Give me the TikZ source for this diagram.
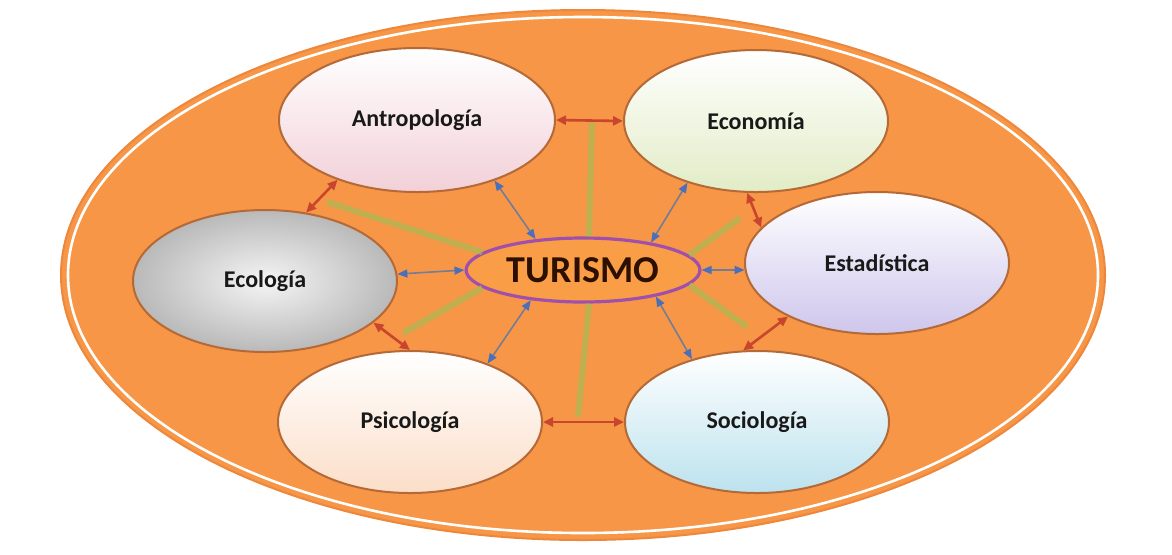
\documentclass[tikz,border=0pt]{standalone}
\usepackage{fontspec}
\setmainfont{Carlito}
\usetikzlibrary{arrows.meta,shapes.geometric}

\definecolor{bgorange}{RGB}{247,150,70}
\definecolor{bgedge}{RGB}{236,135,60}
\definecolor{areaborder}{RGB}{180,105,55}
\definecolor{antrofill}{RGB}{242,208,216}
\definecolor{econfill}{RGB}{226,236,198}
\definecolor{estadfill}{RGB}{206,198,236}
\definecolor{psicofill}{RGB}{251,222,200}
\definecolor{sociofill}{RGB}{188,226,238}
\definecolor{turfill}{RGB}{249,158,70}
\definecolor{turborder}{RGB}{160,80,170}
\definecolor{turtext}{RGB}{45,15,0}
\definecolor{redline}{RGB}{200,70,45}
\definecolor{blueline}{RGB}{115,125,150}
\definecolor{bluetip}{RGB}{75,112,185}
\definecolor{greenray}{RGB}{168,186,82}

\begin{document}
\begin{tikzpicture}[x=0.5pt, y=-0.5pt,
    area/.style={ellipse, draw=areaborder, line width=1pt, minimum width=132pt,
      minimum height=71pt, text=black!90, font=\fontsize{12}{14}\selectfont\bfseries},
    redarr/.style={draw=redline, line width=1.3pt,
      {Triangle[length=5pt,width=4.5pt,color=redline]}-{Triangle[length=5pt,width=4.5pt,color=redline]}},
    bluearr/.style={draw=blueline, line width=0.8pt,
      {Triangle[length=5pt,width=4pt,color=bluetip]}-{Triangle[length=5pt,width=4pt,color=bluetip]}},
    greenray/.style={draw=greenray, line width=3pt, opacity=0.7}]
    \useasboundingbox (0,0) rectangle (1172,554);
    \draw[fill=bgorange, draw=bgedge, line width=1pt] (583,275) ellipse [x radius=522, y radius=265];
    \draw[white, line width=1.3pt] (583,275) ellipse [x radius=515, y radius=258];

    \node[area, minimum width=138pt, minimum height=72pt, top color=white, bottom color=antrofill] (antro) at (417,120) {Antropología};
    \node[area, top color=white, bottom color=econfill] (econ) at (756,121) {Economía};
    \node[area, top color=white, bottom color=estadfill] (estad) at (877,263) {Estadística};
    \node[area, inner color=gray!8, outer color=gray!55] (ecol) at (265,281) {Ecología};
    \node[area, top color=white, bottom color=psicofill] (psico) at (410,422) {Psicología};
    \node[area, top color=white, bottom color=sociofill] (socio) at (757,422) {Sociología};
    \node[ellipse, draw=turborder, line width=1.6pt, fill=turfill, minimum width=110pt, minimum height=32pt,
      text=turtext, font=\fontsize{19}{19}\selectfont\bfseries] (tur) at (583,270) {TURISMO};

    % rays
    \coordinate (raynorth) at (592,123);
    \coordinate (raysouth) at (578,417);
    \coordinate (raynw) at (327,202);
    \coordinate (raysw) at (403,333);
    \coordinate (rayne) at (740,218);
    \coordinate (rayse) at (747,327);
    \draw[greenray] (tur.80) -- (raynorth);
    \draw[greenray] (tur.-80) -- (raysouth);
    \draw[greenray] (tur.170) -- (raynw);
    \draw[greenray] (tur.190) -- (raysw);
    \draw[greenray] (tur.8) -- (rayne);
    \draw[greenray] (tur.-8) -- (rayse);

    % ring
    \draw[redarr] (antro.east) -- (econ.west);
    \draw[redarr] (antro.217) -- (ecol.59);
    \draw[redarr] (ecol.-21) -- (psico.90);
    \draw[redarr] (psico.east) -- (socio.west);
    \draw[redarr] (estad.211) -- (socio.101);
    \draw[redarr] (econ.263) -- (estad.163);

    % spokes
    \draw[bluearr] (antro.-38) -- (tur.147);
    \draw[bluearr] (econ.222) -- (tur.22);
    \draw[bluearr] (ecol.3) -- (tur.west);
    \draw[bluearr] (tur.east) -- (estad.183);
    \draw[bluearr] (psico.37) -- (tur.210);
    \draw[bluearr] (socio.136) -- (tur.340);
\end{tikzpicture}
\end{document}
